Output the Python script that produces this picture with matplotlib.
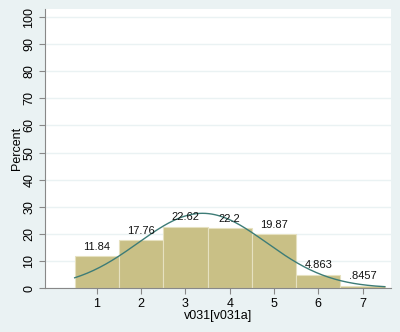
import matplotlib
matplotlib.use("Agg")
import matplotlib.pyplot as plt
import numpy as np

# histogram data (percent per category)
categories = [1, 2, 3, 4, 5, 6, 7]
percents = [11.84, 17.76, 22.62, 22.2, 19.87, 4.863, 0.8457]
bar_labels = ["11.84", "17.76", "22.62", "22.2", "19.87", "4.863", ".8457"]
y_ticks = [0, 10, 20, 30, 40, 50, 60, 70, 80, 90, 100]

plt.rcParams["font.family"] = ["Liberation Sans", "DejaVu Sans"]

bg = "#EAF2F3"
bar_color = "#C9C086"
curve_color = "#3D7C77"

fig = plt.figure(figsize=(4.0, 3.32), dpi=100, facecolor=bg)
ax = fig.add_axes([45 / 400, 1 - 288 / 332, 346 / 400, 279 / 332])
ax.set_facecolor("white")

x = np.array(categories, dtype=float)
p = np.array(percents)
ax.bar(x, p, width=1.0, color=bar_color, edgecolor="#E6E1C0", linewidth=0.8, zorder=2)

# normal density overlay fitted to the histogram
mean = (x * p).sum() / p.sum()
sd = np.sqrt(((x - mean) ** 2 * p).sum() / p.sum())
xs = np.linspace(0.5, 7.5, 200)
ys = 100 / (sd * np.sqrt(2 * np.pi)) * np.exp(-0.5 * ((xs - mean) / sd) ** 2)
ax.plot(xs, ys, color=curve_color, linewidth=1.0, zorder=3)

for xi, pi, lab in zip(x, p, bar_labels):
    ax.text(xi, pi + 1.6, lab, ha="center", va="bottom", fontsize=8, color="#111111", zorder=4)

ax.set_xlim(-0.17, 7.64)
ax.set_ylim(0, 103)
ax.set_yticks(y_ticks)
ax.set_yticklabels([str(t) for t in y_ticks], rotation=90, va="center")
ax.set_xticks(categories)
ax.tick_params(axis="both", direction="out", length=4, width=0.8, color="#888888",
               labelsize=9, pad=3)
ax.yaxis.grid(True, color="#EAF2F3", linewidth=1.0, zorder=0)
ax.set_axisbelow(True)

for side in ["top", "right"]:
    ax.spines[side].set_visible(False)
for side in ["left", "bottom"]:
    ax.spines[side].set_color("#888888")
    ax.spines[side].set_linewidth(0.8)

ax.set_ylabel("Percent", fontsize=9, labelpad=0)
ax.set_xlabel("v031[v031a]", fontsize=9, labelpad=0)

fig.savefig("out.png", dpi=100, facecolor=bg)
